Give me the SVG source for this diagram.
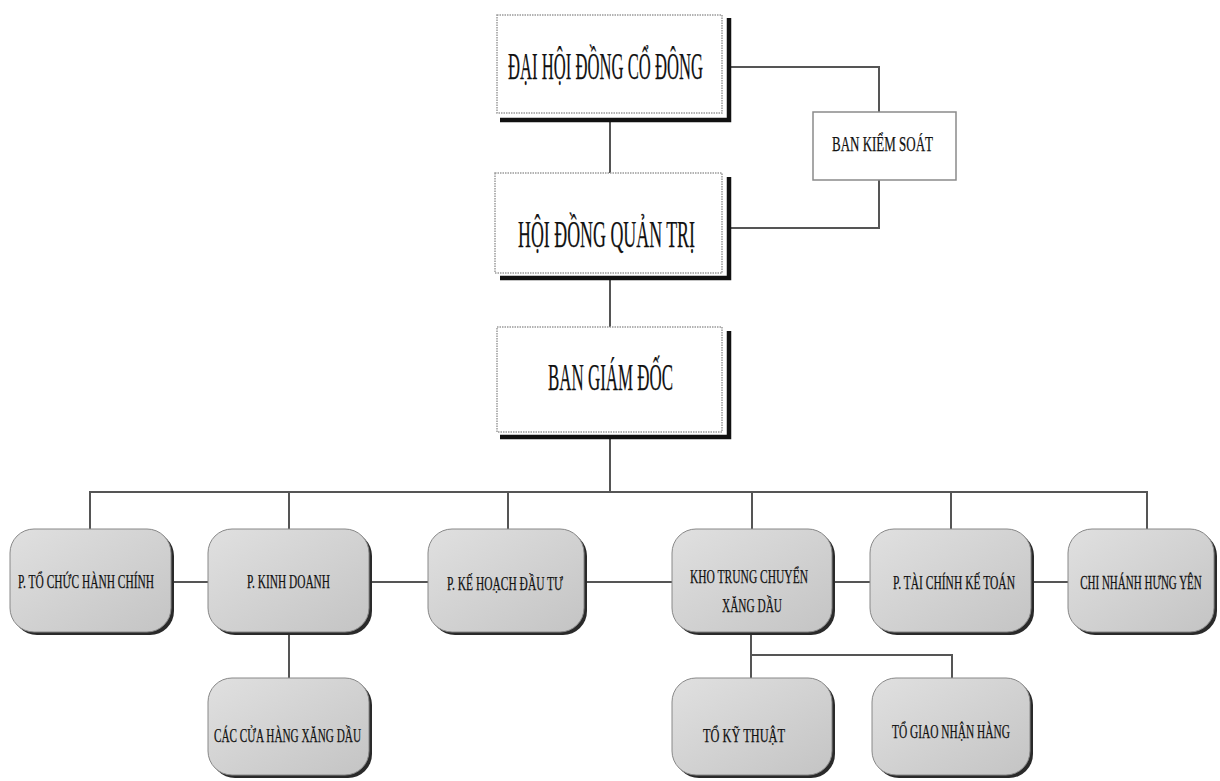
<svg xmlns="http://www.w3.org/2000/svg" width="1220" height="781" viewBox="0 0 1220 781">
<defs>
<linearGradient id="g" x1="0" y1="0" x2="1" y2="1">
<stop offset="0" stop-color="#e0e0e0"/>
<stop offset="1" stop-color="#c4c4c4"/>
</linearGradient>
<style>
.t{font-family:"Liberation Serif","Times New Roman",serif;fill:#111;stroke:#111;stroke-width:0.25;}
.big{font-size:38px;}
.mid{font-size:21px;}
.sm{font-size:19px;}
.wbox{fill:#fff;stroke:#9a9a9a;stroke-width:1.5;stroke-dasharray:1.5 1;}
.sh{fill:none;stroke:#111;stroke-width:4.5;}
.rbox{fill:url(#g);stroke:#888;stroke-width:1;}
.rsh{fill:#2a2a2a;}
.c{fill:none;stroke:#555;stroke-width:2;}
</style>
</defs>
<rect width="1220" height="781" fill="#fff"/>
<g id="connectors">
<path class="c" d="M610 118 V173"/>
<path class="c" d="M610 277 V327"/>
<path class="c" d="M610 437 V492"/>
<path class="c" d="M731 67 H879 V112"/>
<path class="c" d="M879 180 V228 H729"/>
<path class="c" d="M90 530 V492 H1147 V530"/>
<path class="c" d="M289 492 V530"/>
<path class="c" d="M508 492 V530"/>
<path class="c" d="M752 492 V530"/>
<path class="c" d="M951 492 V530"/>
<path class="c" d="M172 582 H1068"/>
<path class="c" d="M289 633 V678"/>
<path class="c" d="M751 633 V678"/>
<path class="c" d="M751 655 H952 V678"/>
</g>
<g id="n-dhdcd">
<rect class="wbox" x="497" y="15" width="225" height="98"/>
<path class="sh" d="M729 18 V120 H500"/>
<text class="t big" x="508" y="79" textLength="195" lengthAdjust="spacingAndGlyphs">ĐẠI HỘI ĐỒNG CỔ ĐÔNG</text>
</g>
<g id="n-bks">
<rect x="813" y="112" width="143" height="68" fill="#fff" stroke="#8a8a8a" stroke-width="1.5"/>
<text class="t mid" x="832" y="151" textLength="101" lengthAdjust="spacingAndGlyphs">BAN KIỂM SOÁT</text>
</g>
<g id="n-hdqt">
<rect class="wbox" x="495" y="173" width="227" height="100"/>
<path class="sh" d="M729 177 V278 H500"/>
<text class="t big" x="518" y="247" textLength="177" lengthAdjust="spacingAndGlyphs">HỘI ĐỒNG QUẢN TRỊ</text>
</g>
<g id="n-bgd">
<rect class="wbox" x="497" y="327" width="225" height="105"/>
<path class="sh" d="M729 331 V437 H500"/>
<text class="t big" x="548" y="390" textLength="125" lengthAdjust="spacingAndGlyphs">BAN GIÁM ĐỐC</text>
</g>
<g id="n-tchc">
<rect class="rsh" x="13" y="532" width="161" height="103" rx="24"/>
<rect class="rbox" x="10" y="529" width="161" height="103" rx="24"/>
<text class="t sm" x="18" y="588" textLength="136" lengthAdjust="spacingAndGlyphs">P. TỔ CHỨC HÀNH CHÍNH</text>
</g>
<g id="n-kd">
<rect class="rsh" x="211" y="532" width="161" height="103" rx="24"/>
<rect class="rbox" x="208" y="529" width="161" height="103" rx="24"/>
<text class="t sm" x="247" y="588" textLength="83" lengthAdjust="spacingAndGlyphs">P. KINH DOANH</text>
</g>
<g id="n-khdt">
<rect class="rsh" x="431" y="532" width="156" height="103" rx="24"/>
<rect class="rbox" x="428" y="529" width="156" height="103" rx="24"/>
<text class="t sm" x="447" y="590" textLength="116" lengthAdjust="spacingAndGlyphs">P. KẾ HOẠCH ĐẦU TƯ</text>
</g>
<g id="n-kho">
<rect class="rsh" x="675" y="532" width="160" height="103" rx="24"/>
<rect class="rbox" x="672" y="529" width="160" height="103" rx="24"/>
<text class="t sm" x="690" y="583" textLength="118" lengthAdjust="spacingAndGlyphs">KHO TRUNG CHUYỂN</text>
<text class="t sm" x="722" y="612" textLength="60" lengthAdjust="spacingAndGlyphs">XĂNG DẦU</text>
</g>
<g id="n-tckt">
<rect class="rsh" x="873" y="532" width="161" height="103" rx="24"/>
<rect class="rbox" x="870" y="529" width="161" height="103" rx="24"/>
<text class="t sm" x="893" y="589" textLength="122" lengthAdjust="spacingAndGlyphs">P. TÀI CHÍNH KẾ TOÁN</text>
</g>
<g id="n-cnhy">
<rect class="rsh" x="1071" y="532" width="146" height="103" rx="24"/>
<rect class="rbox" x="1068" y="529" width="146" height="103" rx="24"/>
<text class="t sm" text-anchor="middle" transform="translate(1141 589) scale(0.58 1)" x="0" y="0">CHI NHÁNH HƯNG YÊN</text>
</g>
<g id="n-cchxd">
<rect class="rsh" x="211" y="681" width="161" height="97" rx="24"/>
<rect class="rbox" x="208" y="678" width="161" height="97" rx="24"/>
<text class="t sm" x="214" y="742" textLength="147" lengthAdjust="spacingAndGlyphs">CÁC CỬA HÀNG XĂNG DẦU</text>
</g>
<g id="n-tkt">
<rect class="rsh" x="675" y="681" width="160" height="97" rx="24"/>
<rect class="rbox" x="672" y="678" width="160" height="97" rx="24"/>
<text class="t sm" x="703" y="742" textLength="82" lengthAdjust="spacingAndGlyphs">TỔ KỸ THUẬT</text>
</g>
<g id="n-tgnh">
<rect class="rsh" x="875" y="681" width="158" height="97" rx="24"/>
<rect class="rbox" x="872" y="678" width="158" height="97" rx="24"/>
<text class="t sm" x="892" y="738" textLength="118" lengthAdjust="spacingAndGlyphs">TỔ GIAO NHẬN HÀNG</text>
</g>
</svg>
